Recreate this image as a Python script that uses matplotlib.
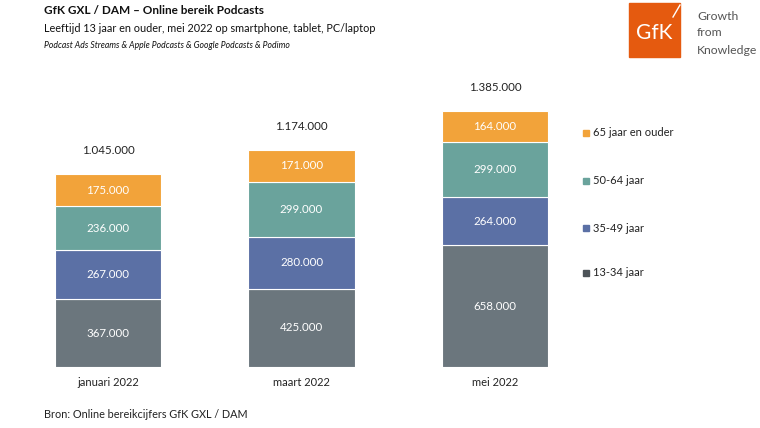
import matplotlib.pyplot as plt
import matplotlib.patches as mpatches
import numpy as np

plt.rcParams['font.family'] = ['Lato', 'DejaVu Sans']

months = ['januari 2022', 'maart 2022', 'mei 2022']
groups = ['13-34 jaar', '35-49 jaar', '50-64 jaar', '65 jaar en ouder']
v_13_34 = [367000, 425000, 658000]
v_35_49 = [267000, 280000, 264000]
v_50_64 = [236000, 299000, 299000]
v_65 = [175000, 171000, 164000]
totals = [1045000, 1174000, 1385000]

colors = ['#6b767d', '#5b70a5', '#6aa39c', '#f2a33a']
legend_colors = ['#4d5358', '#5b70a5', '#6aa39c', '#f2a33a']


def fmt(v):
    return f'{v:,}'.replace(',', '.')


fig = plt.figure(figsize=(7.6, 4.28), dpi=100)
ax = fig.add_axes([21 / 760, (428 - 367) / 428, 561 / 760, 277 / 428])

x = np.arange(len(months))
series = [v_13_34, v_35_49, v_50_64, v_65]
bottom = np.zeros(len(months))
for vals, c in zip(series, colors):
    ax.bar(x, vals, 0.55, bottom=bottom, color=c, edgecolor='white', linewidth=0.8)
    for xi, b, v in zip(x, bottom, vals):
        ax.text(xi, b + v / 2, fmt(v), ha='center', va='center', color='white', fontsize=8.3)
    bottom += np.array(vals)

for xi, t in zip(x, totals):
    ax.text(xi, t + 130000, fmt(t), ha='center', va='center', color='#222222', fontsize=8.3)

ax.set_xlim(-0.45, 2.45)
ax.set_ylim(0, 1500000)
ax.set_xticks(x)
ax.set_xticklabels(months, fontsize=8, color='#222222')
ax.tick_params(axis='x', length=0, pad=7)
ax.set_yticks([])
for s in ['top', 'right', 'left', 'bottom']:
    ax.spines[s].set_visible(False)

# legend
leg_y = [133, 181, 228, 273]
for lab, c, yy in zip(groups[::-1], legend_colors[::-1], leg_y):
    fig.patches.append(mpatches.Rectangle((583 / 760, (428 - yy - 3) / 428), 6 / 760, 6 / 428,
                                          transform=fig.transFigure, color=c))
    fig.text(593 / 760, (428 - yy) / 428, lab, fontsize=8, va='center', color='#222222')

# titles
fig.text(44 / 760, (428 - 11) / 428, 'GfK GXL / DAM \u2013 Online bereik Podcasts', fontsize=8.5,
         fontweight='bold', va='center', color='#111111')
fig.text(44 / 760, (428 - 28) / 428, 'Leeftijd 13 jaar en ouder, mei 2022 op smartphone, tablet, PC/laptop',
         fontsize=7.8, va='center', color='#111111')
fig.text(44 / 760, (428 - 45) / 428, 'Podcast Ads Streams & Apple Podcasts & Google Podcasts & Podimo',
         fontsize=6.2, style='italic', va='center', color='#111111')
fig.text(44 / 760, (428 - 414) / 428, 'Bron: Online bereikcijfers GfK GXL / DAM', fontsize=7.8,
         va='center', color='#222222')

# logo
fig.patches.append(mpatches.Rectangle((629 / 760, (428 - 57) / 428), 51 / 760, 54 / 428,
                                      transform=fig.transFigure, color='#e55a0f'))
fig.text(654 / 760, (428 - 33) / 428, 'GfK', fontsize=15, color='white', ha='center', va='center')
fig.add_artist(plt.Line2D([673 / 760, 680 / 760], [(428 - 17) / 428, (428 - 5) / 428],
                          transform=fig.transFigure, color='white', linewidth=1))
for t, yy in zip(['Growth', 'from', 'Knowledge'], [16, 33, 50]):
    fig.text(697 / 760, (428 - yy) / 428, t, fontsize=8.8, color='#555555', va='center')

fig.savefig('out.png', dpi=100)
